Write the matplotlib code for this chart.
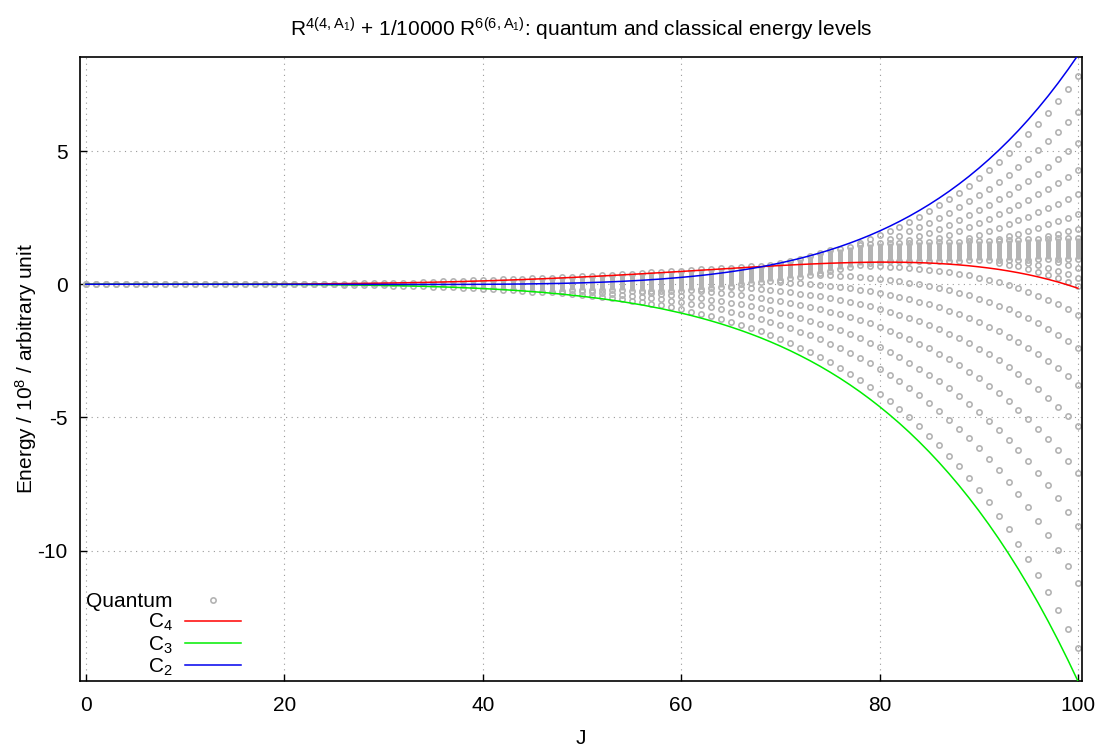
import matplotlib
matplotlib.use("Agg")
import matplotlib.pyplot as plt
from matplotlib.lines import Line2D

plt.rcParams['font.family'] = ['Liberation Sans', 'DejaVu Sans']
plt.rcParams['mathtext.default'] = 'regular'
plt.rcParams['axes.unicode_minus'] = False

# classical energy curves (J, energy / 1e8)
curve_J = [0, 2, 4, 6, 8, 10, 12, 14, 16, 18, 20, 22, 24, 26, 28, 30, 32, 34, 36, 38,
           40, 42, 44, 46, 48, 50, 52, 54, 56, 58, 60, 61, 62, 63, 64, 65, 66, 67, 68, 69,
           70, 71, 72, 73, 74, 75, 76, 77, 78, 79, 80, 81, 82, 83, 84, 85, 86, 87, 88, 89,
           90, 91, 92, 93, 94, 95, 96, 97, 98, 99, 100]
c2_energy = [0, 0, 0, 0, 0, -0.0002, -0.0003, -0.0006, -0.001, -0.0015, -0.0021, -0.0029,
             -0.0038, -0.0047, -0.0057, -0.0065, -0.0071, -0.0072, -0.0066, -0.005, -0.002,
             0.0029, 0.0101, 0.0204, 0.0345, 0.0533, 0.0777, 0.1091, 0.1485, 0.1975, 0.258,
             0.293, 0.331, 0.373, 0.420, 0.470, 0.526, 0.586, 0.651, 0.723, 0.800, 0.884,
             0.974, 1.072, 1.177, 1.291, 1.414, 1.545, 1.686, 1.837, 1.999, 2.173, 2.358,
             2.556, 2.768, 2.993, 3.233, 3.488, 3.760, 4.048, 4.355, 4.680, 5.025, 5.389,
             5.775, 6.184, 6.617, 7.073, 7.555, 8.064, 8.600]
c3_energy = [0, 0, 0, 0, -0.0002, -0.0005, -0.001, -0.0019, -0.0032, -0.0052, -0.0081,
             -0.0121, -0.0174, -0.0245, -0.0335, -0.0452, -0.0598, -0.0779, -0.1004, -0.1279,
             -0.161, -0.201, -0.2487, -0.305, -0.372, -0.451, -0.543, -0.650, -0.773, -0.916,
             -1.081, -1.172, -1.269, -1.373, -1.484, -1.603, -1.729, -1.864, -2.007, -2.160,
             -2.322, -2.495, -2.678, -2.872, -3.077, -3.296, -3.526, -3.771, -4.029, -4.303,
             -4.592, -4.897, -5.218, -5.558, -5.916, -6.293, -6.691, -7.109, -7.549, -8.012,
             -8.498, -9.009, -9.546, -10.110, -10.701, -11.322, -11.972, -12.655, -13.369,
             -14.117, -14.900]
c4_energy = [0, 0, 0, 0, 0.0002, 0.0006, 0.0012, 0.0022, 0.0038, 0.006, 0.009, 0.0131,
             0.0184, 0.025, 0.0333, 0.0433, 0.0553, 0.0694, 0.0858, 0.1046, 0.1261, 0.1501,
             0.1769, 0.2065, 0.2388, 0.2738, 0.3113, 0.351, 0.393, 0.4366, 0.481, 0.504, 0.527,
             0.550, 0.573, 0.596, 0.619, 0.641, 0.662, 0.683, 0.703, 0.723, 0.742, 0.759,
             0.774, 0.789, 0.801, 0.812, 0.820, 0.826, 0.830, 0.830, 0.827, 0.821, 0.810,
             0.797, 0.778, 0.755, 0.727, 0.694, 0.654, 0.609, 0.558, 0.498, 0.432, 0.358,
             0.275, 0.183, 0.083, -0.029, -0.150]

# quantum levels: dense stacks at each J (lowest and highest level of the stack)
stack_J = list(range(0, 101))
stack_lo = [0] * 26 + [-0.02, -0.03, -0.03, -0.04, -0.045, -0.05, -0.06, -0.07, -0.08, -0.09,
            -0.10, -0.114, -0.128, -0.144, -0.161, -0.18, -0.201, -0.224, -0.249, -0.276,
            -0.305, -0.28, -0.25, -0.23, -0.22, -0.22, -0.22, -0.23, -0.23, -0.24, -0.24,
            -0.24, -0.25, -0.25, -0.25, -0.22, -0.18, -0.13, -0.09, -0.05, 0.0, 0.04, 0.08,
            0.12, 0.15, 0.22, 0.29, 0.36, 0.43, 0.50, 0.57, 0.64, 0.71, 0.78, 0.85, 0.86,
            0.86, 0.87, 0.87, 0.88, 0.88, 0.89, 0.89, 0.90, 0.90, 0.90, 0.91, 0.91, 0.92,
            0.92, 0.93, 0.93, 0.94, 0.94, 0.95]
stack_hi = [0] * 26 + [0.02, 0.03, 0.03, 0.04, 0.045, 0.05, 0.055, 0.06, 0.07, 0.08, 0.116,
            0.125, 0.135, 0.145, 0.156, 0.168, 0.18, 0.193, 0.207, 0.221, 0.237, 0.252,
            0.269, 0.286, 0.304, 0.322, 0.341, 0.361, 0.381, 0.402, 0.423, 0.445, 0.467,
            0.489, 0.511, 0.534, 0.557, 0.58, 0.603, 0.626, 0.649, 0.671, 0.692, 0.71, 0.78,
            0.864, 0.954, 1.052, 1.157, 1.271, 1.33, 1.40, 1.46, 1.50, 1.53, 1.54, 1.55,
            1.56, 1.57, 1.58, 1.59, 1.60, 1.60, 1.61, 1.62, 1.63, 1.64, 1.66, 1.67, 1.68,
            1.70, 1.71, 1.73, 1.74, 1.75]

# quantum levels: separate sequences below the stacks (C3 side), first J of each
low_start = [48, 50, 56, 62, 65, 70, 74, 79, 92, 95, 98]
low_0 = [-0.319, -0.352, -0.388, -0.426, -0.468, -0.513, -0.562, -0.614, -0.671, -0.731,
         -0.797, -0.868, -0.943, -1.024, -1.110, -1.203, -1.302, -1.408, -1.521, -1.642,
         -1.771, -1.908, -2.054, -2.211, -2.376, -2.552, -2.737, -2.936, -3.145, -3.368,
         -3.603, -3.853, -4.117, -4.396, -4.690, -5.001, -5.330, -5.677, -6.043, -6.428,
         -6.834, -7.260, -7.710, -8.183, -8.680, -9.203, -9.750, -10.327, -10.931,
         -11.567, -12.232, -12.929, -13.66]
low_1 = [-0.263, -0.291, -0.321, -0.353, -0.389, -0.426, -0.468, -0.512, -0.561, -0.614,
         -0.670, -0.731, -0.796, -0.866, -0.941, -1.023, -1.110, -1.203, -1.303, -1.410,
         -1.524, -1.648, -1.778, -1.917, -2.064, -2.224, -2.391, -2.569, -2.760, -2.962,
         -3.177, -3.403, -3.644, -3.899, -4.170, -4.457, -4.759, -5.079, -5.417, -5.772,
         -6.149, -6.546, -6.965, -7.407, -7.868, -8.357, -8.871, -9.413, -9.981, -10.578,
         -11.205]
low_2 = [-0.292, -0.322, -0.356, -0.393, -0.433, -0.476, -0.523, -0.573, -0.628, -0.689,
         -0.753, -0.822, -0.897, -0.978, -1.064, -1.159, -1.259, -1.366, -1.480, -1.605,
         -1.735, -1.876, -2.027, -2.187, -2.360, -2.541, -2.736, -2.942, -3.162, -3.397,
         -3.643, -3.907, -4.187, -4.480, -4.793, -5.124, -5.475, -5.846, -6.233, -6.646,
         -7.081, -7.542, -8.026, -8.536, -9.072]
low_3 = [-0.270, -0.301, -0.337, -0.377, -0.420, -0.468, -0.519, -0.575, -0.636, -0.704,
         -0.776, -0.853, -0.936, -1.029, -1.126, -1.231, -1.346, -1.467, -1.600, -1.739,
         -1.891, -2.051, -2.225, -2.411, -2.606, -2.817, -3.042, -3.277, -3.531, -3.802,
         -4.090, -4.395, -4.712, -5.054, -5.417, -5.801, -6.207, -6.636, -7.088]
low_4 = [-0.101, -0.125, -0.153, -0.183, -0.218, -0.256, -0.301, -0.347, -0.398, -0.453,
         -0.518, -0.585, -0.658, -0.741, -0.828, -0.926, -1.028, -1.141, -1.260, -1.393,
         -1.536, -1.685, -1.850, -2.026, -2.210, -2.412, -2.628, -2.860, -3.106, -3.362,
         -3.642, -3.939, -4.256, -4.592, -4.949, -5.327]
low_5 = [0.082, 0.058, 0.033, 0.006, -0.025, -0.065, -0.105, -0.150, -0.204, -0.261, -0.327,
         -0.396, -0.476, -0.559, -0.655, -0.759, -0.868, -0.991, -1.125, -1.263, -1.419,
         -1.587, -1.768, -1.963, -2.164, -2.388, -2.628, -2.886, -3.160, -3.453, -3.765]
low_6 = [0.356, 0.338, 0.322, 0.301, 0.273, 0.244, 0.204, 0.165, 0.116, 0.065, 0.002,
         -0.069, -0.142, -0.228, -0.324, -0.421, -0.535, -0.661, -0.798, -0.947, -1.099,
         -1.274, -1.462, -1.667, -1.887, -2.123, -2.376]
low_7 = [0.694, 0.679, 0.666, 0.644, 0.621, 0.588, 0.547, 0.507, 0.453, 0.391, 0.330, 0.253,
         0.166, 0.068, -0.040, -0.148, -0.279, -0.422, -0.580, -0.750, -0.935, -1.136]
low_8 = [0.813, 0.740, 0.669, 0.577, 0.473, 0.356, 0.228, 0.086, -0.070]
low_9 = [0.815, 0.723, 0.617, 0.501, 0.371, 0.228]
low_10 = [0.842, 0.727, 0.600]

# quantum levels: separate sequences above the stacks (C2 side), first J of each
high_start = [78, 81, 83, 86, 89, 92, 97]
high_0 = [1.547, 1.685, 1.834, 1.992, 2.161, 2.342, 2.535, 2.740, 2.958, 3.190, 3.437,
          3.699, 3.977, 4.272, 4.584, 4.914, 5.263, 5.632, 6.023, 6.435, 6.869, 7.327, 7.81]
high_1 = [1.689, 1.830, 1.981, 2.143, 2.314, 2.496, 2.689, 2.895, 3.111, 3.342, 3.586,
          3.844, 4.115, 4.402, 4.705, 5.026, 5.362, 5.717, 6.090, 6.48]
high_2 = [1.660, 1.794, 1.934, 2.084, 2.242, 2.410, 2.587, 2.776, 2.974, 3.183, 3.402,
          3.634, 3.878, 4.136, 4.405, 4.688, 4.985, 5.30]
high_3 = [1.732, 1.861, 1.997, 2.140, 2.292, 2.451, 2.619, 2.794, 2.978, 3.172, 3.376,
          3.588, 3.810, 4.043, 4.29]
high_4 = [1.742, 1.861, 1.986, 2.116, 2.252, 2.394, 2.543, 2.699, 2.860, 3.028, 3.203, 3.39]
high_5 = [1.693, 1.795, 1.902, 2.013, 2.129, 2.247, 2.370, 2.496, 2.63]
high_6 = [1.800, 1.890, 1.981, 2.08]

low_levels = [low_0, low_1, low_2, low_3, low_4, low_5, low_6, low_7, low_8, low_9, low_10]
high_levels = [high_0, high_1, high_2, high_3, high_4, high_5, high_6]

x_ticks = [0, 20, 40, 60, 80, 100]
y_ticks = [-10, -5, 0, 5]

quantum_gray = '#b4b4b4'
dot_style = dict(ls='none', marker='o', ms=3.8, mfc='none', mec=quantum_gray, mew=1.2)
fs = 15

fig = plt.figure(figsize=(10.99, 7.47), dpi=100)
ax = fig.add_axes([0.0728, 0.0884, 0.9117, 0.8353])

# dense stacks
ax.vlines(stack_J, stack_lo, stack_hi, colors=quantum_gray, lw=3.6, zorder=2)
ax.plot(stack_J, stack_lo, zorder=2, **dot_style)
ax.plot(stack_J, stack_hi, zorder=2, **dot_style)

for start, vals in zip(low_start, low_levels):
    ax.plot(range(start, start + len(vals)), vals, zorder=2, **dot_style)
for start, vals in zip(high_start, high_levels):
    ax.plot(range(start, start + len(vals)), vals, zorder=2, **dot_style)

ax.plot(curve_J, c4_energy, color='#ff0000', lw=1.1, zorder=3)
ax.plot(curve_J, c3_energy, color='#00ee00', lw=1.1, zorder=3)
ax.plot(curve_J, c2_energy, color='#0000ee', lw=1.1, zorder=3)

ax.set_xlim(-0.6, 100.4)
ax.set_ylim(-14.89, 8.53)
ax.set_xticks(x_ticks)
ax.set_yticks(y_ticks)
ax.tick_params(direction='in', length=5, width=1.0, labelsize=fs,
               top=False, right=False)
ax.tick_params(axis='x', pad=11)
ax.tick_params(axis='y', pad=9)
ax.grid(True, color='#999999', linestyle=(0, (1, 4)), lw=0.8)
for s in ax.spines.values():
    s.set_linewidth(1.2)

ax.set_xlabel('J', fontsize=fs, labelpad=10)
ax.set_ylabel('Energy / 10$^8$ / arbitrary unit', fontsize=fs, labelpad=-1)
ax.set_title('R$^{4(4,A_1)}$ + 1/10000 R$^{6(6,A_1)}$: quantum and classical energy levels',
             fontsize=fs, pad=15)

handles = [Line2D([], [], **dot_style),
           Line2D([], [], color='#ff0000', lw=1.1),
           Line2D([], [], color='#00ee00', lw=1.1),
           Line2D([], [], color='#0000ee', lw=1.1)]
labels = ['Quantum', 'C$_4$', 'C$_3$', 'C$_2$']
ax.legend(handles, labels, loc='lower left', bbox_to_anchor=(0.006, 0.005),
          frameon=False, markerfirst=False, fontsize=fs, handlelength=2.7,
          handletextpad=0.6, labelspacing=0.05, borderpad=0, borderaxespad=0)

fig.savefig('out.png', dpi=100)
